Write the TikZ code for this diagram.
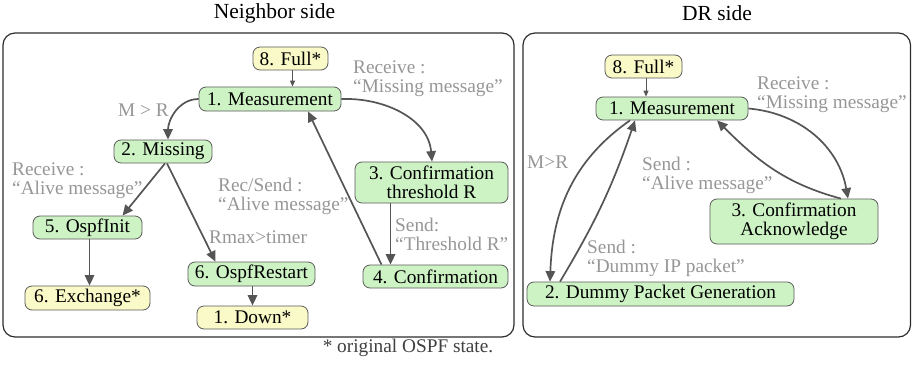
\documentclass[tikz,border=0pt]{standalone}
\usepackage{fontspec}
\setmainfont{Liberation Serif}[Ligatures=TeX]
\newfontfamily\diagfont{Liberation Serif}
\usetikzlibrary{arrows.meta}
\definecolor{stategreen}{RGB}{205,243,197}
\definecolor{stateyellow}{RGB}{250,250,200}
\definecolor{nodeedge}{RGB}{90,90,90}
\definecolor{linkgray}{RGB}{85,85,85}
\definecolor{labelgray}{RGB}{150,150,150}
\definecolor{paneledge}{RGB}{45,45,45}
\begin{document}
\begin{tikzpicture}[x=1pt,y=-1pt,
  statebox/.style={draw=nodeedge, line width=0.8pt, rounded corners=7pt, inner sep=0pt,
    text=black, font=\diagfont\fontsize{19.3}{19.5}\selectfont, align=center},
  greenstate/.style={statebox, fill=stategreen},
  yellowstate/.style={statebox, fill=stateyellow},
  lbl/.style={inner sep=0pt, text=labelgray, font=\diagfont\fontsize{19.3}{19}\selectfont, align=left, anchor=west},
  panel/.style={draw=paneledge, line width=1.2pt, rounded corners=12pt},
  link/.style={draw=linkgray, line width=1.7pt, -{Triangle[length=10.5pt,width=9.5pt]}},
  thinlink/.style={draw=linkgray, line width=1pt, -{Triangle[length=6pt,width=5pt]}},
  title/.style={inner sep=0pt, font=\diagfont\fontsize{21.5}{22}\selectfont}
]
\useasboundingbox (0,0) rectangle (912,367);

% panels and titles
\draw[panel] (3,33) rectangle (514,337);
\draw[panel] (523,33) rectangle (910.5,337);
\node[title] (tleft) at (274.5,13) {Neighbor side};
\node[title] (tright) at (717,13) {DR side};
\node[inner sep=0pt, font=\diagfont\fontsize{19.3}{19.5}\selectfont, text=black!75] (note) at (408,348) {* original OSPF state.};

% neighbor side states
\node[yellowstate, minimum width=75pt, minimum height=23pt] (full1) at (290.5,58.5) {8. Full*};
\node[greenstate, minimum width=142pt, minimum height=24pt] (meas1) at (270,99) {1. Measurement};
\node[greenstate, minimum width=98pt, minimum height=23pt] (miss) at (163,151.5) {2. Missing};
\node[greenstate, minimum width=109pt, minimum height=23pt] (init) at (87.5,227.5) {5. OspfInit};
\node[yellowstate, minimum width=125pt, minimum height=24pt] (exch) at (87.5,298) {6. Exchange*};
\node[greenstate, minimum width=127pt, minimum height=24pt] (restart) at (251.5,274) {6. OspfRestart};
\node[yellowstate, minimum width=111pt, minimum height=23pt] (down) at (252.5,317.5) {1. Down*};
\node[greenstate, minimum width=153pt, minimum height=41pt] (conf3) at (431.5,182.5) {3. Confirmation\\threshold R};
\node[greenstate, minimum width=145pt, minimum height=23pt] (conf4) at (435.5,276.5) {4. Confirmation};

% DR side states
\node[yellowstate, minimum width=77pt, minimum height=23pt] (full2) at (643.5,66.5) {8. Full*};
\node[greenstate, minimum width=152pt, minimum height=23pt] (meas2) at (672,108.5) {1. Measurement};
\node[greenstate, minimum width=168pt, minimum height=45pt] (ack) at (794,221.5) {3. Confirmation\\Acknowledge};
\node[greenstate, minimum width=267pt, minimum height=24pt] (dummy) at (660.5,294) {2. Dummy Packet Generation};

% neighbor side transitions
\draw[thinlink] ([xshift=2pt]full1.south) -- ([xshift=2pt]full1.south |- meas1.north);
\draw[link] (meas1.west) to[out=180,in=90] ([xshift=5pt]miss.north);
\draw[link] (meas1.east) to[out=2,in=95] ([xshift=0.5pt]conf3.north);
\draw[link] ([xshift=2pt]miss.south) -- ([xshift=35pt]init.north);
\draw[link] ([xshift=4pt]miss.south) -- ([xshift=-36pt]restart.north);
\draw[link] ([xshift=2pt]init.south) -- ([xshift=2pt]init.south |- exch.north);
\draw[link] ([xshift=1pt]restart.south) -- ([xshift=1pt]restart.south |- down.north);
\draw[link] ([xshift=-41pt]conf3.south) -- ([xshift=-41pt]conf3.south |- conf4.north);
\draw[link] ([xshift=-54pt]conf4.north) -- ([xshift=38pt]meas1.south);

% DR side transitions
\draw[thinlink] ([xshift=2.5pt]full2.south) -- ([xshift=2.5pt]full2.south |- meas2.north);
\draw[link] (meas2.east) to[out=-5,in=100] ([xshift=54pt]ack.north);
\draw[link] ([xshift=47pt]ack.north) to[out=165,in=-45] ([xshift=45pt]meas2.south);
\draw[link] ([xshift=-42pt]meas2.south) to[out=215,in=88] ([xshift=-110.5pt]dummy.north);
\draw[link] ([xshift=-100.5pt]dummy.north) to[bend right=6] ([xshift=-37pt]meas2.south);

% neighbor side conditions
\node[lbl] (lmr) at (118,110) {M > R};
\node[lbl] (lrecv1) at (353,79) {Receive :\\“Missing message”};
\node[lbl] (lalive1) at (12,181) {Receive :\\“Alive message”};
\node[lbl] (lrecsend) at (218,196) {Rec/Send :\\“Alive message”};
\node[lbl] (lrmax) at (209,237) {Rmax>timer};
\node[lbl] (lthr) at (395,234) {Send:\\“Threshold R”};

% DR side conditions
\node[lbl] (lrecv2) at (757,95) {Receive :\\“Missing message”};
\node[lbl] (lmr2) at (527,162) {M>R};
\node[lbl] (lalive2) at (642,175) {Send :\\“Alive message”};
\node[lbl] (ldummy) at (587,258) {Send :\\“Dummy IP packet”};
\end{tikzpicture}
\end{document}
